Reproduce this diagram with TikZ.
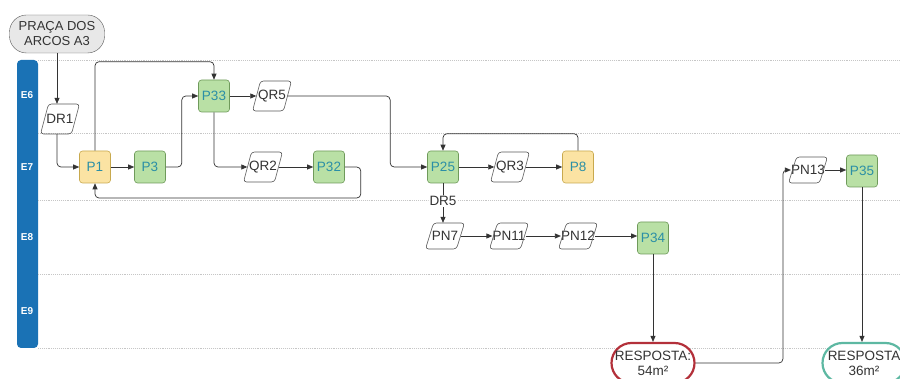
\documentclass[tikz,border=0pt]{standalone}
\usepackage{fontspec}
\setmainfont{Liberation Sans}
\usetikzlibrary{arrows.meta}
\definecolor{gfill}{HTML}{B9E0A5}
\definecolor{gdraw}{HTML}{6F9A5B}
\definecolor{yfill}{HTML}{FBE3A3}
\definecolor{ydraw}{HTML}{C8A94E}
\definecolor{ptext}{HTML}{2B8FA6}
\definecolor{lanec}{HTML}{1A72B5}
\definecolor{redb}{HTML}{B3303A}
\definecolor{tealb}{HTML}{5DB8A2}
\definecolor{linec}{HTML}{333333}
\definecolor{grayt}{HTML}{333333}
\newcommand{\fs}{\fontsize{13.5}{15}\selectfont}
\tikzset{
  lanel/.style={draw=gray!45, densely dotted, line width=0.9pt},
  elabel/.style={text=white, font=\fontsize{10}{12}\selectfont\bfseries},
  pbox/.style={rectangle, rounded corners=3pt, minimum width=31pt, minimum height=32pt, inner sep=0pt, text=ptext, font=\fs, line width=0.6pt},
  gbox/.style={pbox, fill=gfill, draw=gdraw},
  ybox/.style={pbox, fill=yfill, draw=ydraw},
  para/.style={rectangle, minimum width=31pt, minimum height=30pt, inner sep=0pt, text=grayt, font=\fs},
  parb/.style={para, minimum height=26pt},
  parashape/.style={draw=gray!70!black, line width=0.6pt, rounded corners=3pt},
  resp/.style={rectangle, rounded corners=20pt, minimum width=83pt, minimum height=40pt, line width=2.2pt, align=center, text=grayt, font=\fs, fill=white},
  arr/.style={draw=linec, line width=0.7pt, -{Triangle[length=6pt,width=5pt]}, rounded corners=4pt},
}
\begin{document}
\begin{tikzpicture}[x=1pt,y=-1pt]
\useasboundingbox (0,0) rectangle (900,379);
\clip (0,0) rectangle (900,379);
\fill[white] (0,0) rectangle (900,379);
% lanes
\fill[lanec, rounded corners=4pt] (17,60) rectangle (38,348);
\foreach \yy in {60,133,200,274,348} \draw[lanel] (38,\yy) -- (900,\yy);
\node[elabel] (e6) at (27,95) {E6};
\node[elabel] (e7) at (27,167) {E7};
\node[elabel] (e8) at (27,237) {E8};
\node[elabel] (e9) at (27,311) {E9};
% nodes
\node[draw=gray!70!black, fill=gray!18, rounded corners=17pt, minimum width=95pt, minimum height=38pt, align=center, text=grayt, font=\fontsize{13}{15}\selectfont, inner sep=1pt] (praca) at (57,34) {PRAÇA DOS\\ARCOS A3};
\node[para] (dr1) at (60,119) {DR1};
\node[ybox] (p1) at (95,167) {P1};
\node[gbox] (p3) at (150,167) {P3};
\node[gbox] (p33) at (214,96) {P33};
\node[para] (qr5) at (272,96) {QR5};
\node[para] (qr2) at (263,167) {QR2};
\node[gbox] (p32) at (329,167) {P32};
\node[gbox] (p25) at (443,167) {P25};
\node[para] (qr3) at (510,167) {QR3};
\node[ybox] (p8) at (578,167) {P8};
\node[parb] (pn7) at (445,236) {PN7};
\node[parb] (pn11) at (509,236) {PN11};
\node[parb] (pn12) at (578,236) {PN12};
\node[gbox] (p34) at (653,238) {P34};
\node[resp, draw=redb] (resp1) at (653,363) {RESPOSTA:\\54m²};
\node[parb] (pn13) at (808,170) {PN13};
\node[gbox] (p35) at (862,171) {P35};
\node[resp, draw=tealb] (resp2) at (864,363) {RESPOSTA\\36m²};
% parallelogram outlines
\foreach \n/\h in {dr1/15,qr5/15,qr2/15,qr3/15,pn7/13,pn11/13,pn12/13,pn13/13}
  \draw[parashape] ([shift={(-19.5,\h)}]\n.center) -- ([shift={(11.5,\h)}]\n.center)
     -- ([shift={(19.5,-\h)}]\n.center) -- ([shift={(-11.5,-\h)}]\n.center) -- cycle;
% connectors
\draw[arr] (praca.south -| 57,0) -- (dr1.north -| 57,0);
\draw[arr] (dr1.south -| 57,0) |- (p1.west);
\draw[arr] (p1) -- (p3);
\draw[arr] (p3.east) -- ++(16,0) |- (p33.west);
\draw[arr] (p1.north) -- ++(0,-89) -| (p33.north);
\draw[arr] (p33) -- (qr5);
\draw[arr] (p33.south) |- (qr2.west);
\draw[arr] (qr2) -- (p32);
\draw[arr] (p32.east) -- ++(16,0) -- ++(0,31) -| (p1.south);
\draw[arr] (qr5.east) -| ([xshift=-37pt]p25.west) -- (p25.west);
\draw[arr] (p25) -- (qr3);
\draw[arr] (qr3) -- (p8);
\draw[arr] (p8.north) -- ++(0,-17) -| (p25.north);
\draw[arr] (p25.south) -- (p25.south |- pn7.north) node[pos=0.45, fill=white, inner sep=1pt, text=grayt, font=\fs] (dr5) {DR5};
\draw[arr] (pn7) -- (pn11);
\draw[arr] (pn11) -- (pn12);
\draw[arr] (pn12) -- (pn12 -| p34.west);
\draw[arr] (p34) -- (resp1);
\draw[arr] (resp1.east) -| ([xshift=-8pt]pn13.west) -- (pn13.west);
\draw[arr] (pn13) -- (pn13 -| p35.west);
\draw[arr] (p35.south) -- (p35.south |- resp2.north);
\end{tikzpicture}
\end{document}
